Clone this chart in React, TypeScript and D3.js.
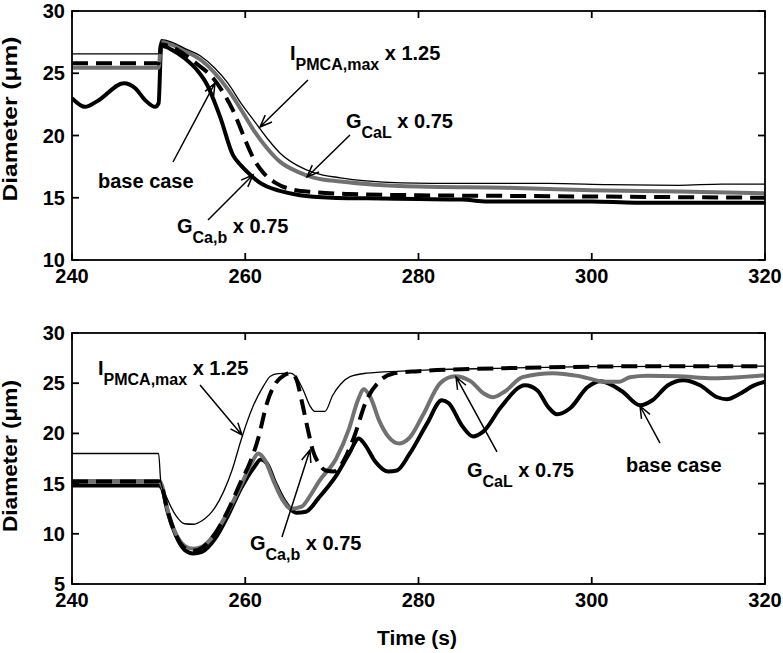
import * as d3 from "d3";

// ---- data (time in s, diameter in um) ----
const topThin: [number, number][] = [
  [240, 26.55], [250.0, 26.55], [250.3, 27.7], [251.5, 27.5], [253, 27.0], [254.8, 26.4],
  [256.5, 25.4], [258, 24.2], [259.5, 22.6], [261, 21.2], [262.5, 19.8], [264, 18.6],
  [266, 17.6], [268, 17.0], [271, 16.6], [274, 16.35], [278, 16.2], [285, 16.15],
  [295, 16.15], [302, 16.05], [310, 16.0], [315, 16.1], [320, 16.1],
];
const topGray: [number, number][] = [
  [240, 25.45], [250.0, 25.45], [250.3, 27.5], [251.5, 27.3], [253, 26.8], [255, 26.0],
  [256.5, 25.0], [258, 23.7], [259.5, 22.1], [261, 20.4], [262.5, 19.0], [264, 17.9],
  [266, 17.1], [268, 16.6], [271, 16.3], [275, 16.05], [280, 15.9], [290, 15.8],
  [300, 15.6], [310, 15.5], [320, 15.35],
];
const topDash: [number, number][] = [
  [240, 25.8], [250.0, 25.8], [250.3, 27.3], [251.5, 27.1], [253, 26.5], [254.5, 25.7],
  [256.3, 24.6], [257.5, 23.4], [258.6, 22.0], [259.5, 20.5], [260.2, 19.3], [261, 18.1],
  [262.1, 17.0], [263.5, 16.2], [265.2, 15.7], [268, 15.45], [272, 15.3], [280, 15.2],
  [290, 15.15], [300, 15.1], [310, 15.05], [320, 15.0],
];
const topBase: [number, number][] = [
  [240, 23.0], [241.5, 22.3], [243, 22.8], [246, 24.2], [247.3, 23.8], [248.5, 22.8],
  [249.6, 22.3], [250.0, 22.6], [250.3, 27.2], [251.5, 26.9], [253, 26.2], [254.5, 25.2],
  [255.5, 24.2], [257.1, 21.5], [258.6, 18.4], [259.5, 17.6], [260.2, 17.1], [261.5, 16.3],
  [262.5, 15.9], [264, 15.55], [266.3, 15.2], [270, 15.0], [274, 14.95], [280, 14.9],
  [285, 14.85], [288, 14.7], [300, 14.7], [305, 14.6], [320, 14.6],
];

const botThin: [number, number][] = [
  [240, 18.0], [250.0, 18.0], [250.25, 15.2], [251, 13.5], [252, 11.8], [253, 11.0],
  [254, 10.95], [255, 11.3], [256.5, 12.6], [257.5, 14.2], [258.5, 16.4], [259.5, 19.3],
  [260.9, 22.7], [262.1, 24.7], [262.9, 25.7], [263.8, 25.95], [265.2, 26.0], [265.8, 25.7],
  [266.7, 24.3], [267.5, 22.7], [268, 22.2], [269.2, 22.2], [270.1, 23.8], [271, 24.9],
  [272.1, 25.65], [274, 26.0], [278, 26.2], [282, 26.35], [290, 26.5], [300, 26.65],
  [320, 26.7],
];
const botGray: [number, number][] = [
  [240, 15.25], [250.0, 15.25], [250.4, 14.8], [251, 12.5], [252, 10.0], [253, 8.8],
  [254, 8.5], [255, 8.7], [256.5, 10.0], [258, 12.2], [259.5, 14.8], [260.7, 17.0],
  [261.5, 18.0], [262.3, 17.3], [263.3, 15.2], [264.3, 13.4], [265.3, 12.5], [266.5, 12.7],
  [267.5, 13.8], [268.5, 15.2], [270.5, 17.5], [272, 20.5], [273, 23.3], [273.7, 24.4],
  [274.5, 23.5], [275.5, 21.2], [276.5, 19.7], [277.8, 19.0], [279, 19.6], [280.5, 21.8],
  [282.5, 25.0], [284.2, 25.7], [286, 25.2], [287.5, 24.0], [288.6, 23.6], [290, 24.2],
  [292, 25.6], [295.5, 26.0], [298.6, 25.7], [301.5, 25.15], [303.2, 25.15], [304.4, 25.6],
  [306.4, 25.75], [310, 25.7], [314, 25.5], [317, 25.6], [320, 25.8],
];
const botDash: [number, number][] = [
  [240, 15.2], [250.0, 15.2], [250.4, 14.6], [251, 12.4], [252, 9.9], [253, 8.6],
  [254, 8.3], [255, 8.6], [256.5, 10.0], [258, 12.3], [259.5, 15.2], [260.5, 17.0],
  [261.5, 19.5], [262.5, 23.0], [263.5, 25.0], [264.5, 25.8], [265.3, 26.0], [265.9, 25.4],
  [266.5, 23.3], [267.2, 20.5], [267.8, 18.3], [268.5, 17.0], [269.3, 16.3], [270.2, 16.2],
  [271, 16.8], [272.5, 19.5], [274, 23.3], [275.5, 25.2], [277, 25.95], [280, 26.2],
  [285, 26.4], [290, 26.5], [300, 26.65], [310, 26.7], [320, 26.7],
];
const botBase: [number, number][] = [
  [240, 14.8], [250.0, 14.8], [250.4, 14.5], [251, 12.3], [252, 9.8], [253, 8.4],
  [254, 8.05], [255, 8.2], [256.5, 9.5], [258, 11.8], [259.5, 14.5], [261, 16.6],
  [261.8, 17.4], [262.5, 17.0], [263.5, 15.0], [264.5, 13.3], [265.9, 12.1], [267, 12.2],
  [268.5, 13.6], [270.5, 15.8], [272, 18.0], [273.1, 19.5], [273.8, 18.9], [275, 17.2],
  [276.5, 16.2], [277.5, 16.3], [279, 18.0], [281, 21.0], [282.7, 23.3], [283.5, 23.0],
  [285, 20.8], [286.3, 19.7], [287.5, 20.2], [289.5, 22.6], [292.3, 24.8], [293.7, 24.3],
  [295, 22.6], [296, 21.9], [297.5, 22.5], [299.5, 24.6], [301, 25.2], [303.5, 24.2],
  [305.6, 22.8], [307, 23.3], [308.8, 24.8], [310.6, 25.3], [312.5, 24.8], [314.5, 23.6],
  [315.6, 23.4], [317, 23.9], [318.8, 24.8], [320, 25.15],
];

const xTicks = [240, 260, 280, 300, 320];
const topYTicks = [10, 15, 20, 25, 30];
const botYTicks = [5, 10, 15, 20, 25, 30];

// annotations: [text x, text y, tail x, tail y, head x, head y] in data units
type Note = { main: string; sub?: string; rest?: string; at: number[]; arrow: number[] };
const topNotes: Note[] = [
  { main: "I", sub: "PMCA,max", rest: " x 1.25", at: [265.17, 26.06], arrow: [267.24, 24.46, 261.7, 20.68] },
  { main: "G", sub: "CaL", rest: " x 0.75", at: [271.63, 20.6], arrow: [272.09, 20.04, 267.13, 16.67] },
  { main: "base case", at: [243.0, 15.78], arrow: [251.66, 17.87, 256.51, 24.22] },
  { main: "G", sub: "Ca,b", rest: " x 0.75", at: [252.12, 12.17], arrow: [255.7, 13.21, 260.89, 16.83] },
];
const botNotes: Note[] = [
  { main: "I", sub: "PMCA,max", rest: " x 1.25", at: [243.0, 25.82], arrow: [254.78, 24.82, 259.62, 19.84] },
  { main: "G", sub: "Ca,b", rest: " x 0.75", at: [260.55, 8.39], arrow: [264.24, 9.68, 267.47, 18.35] },
  { main: "G", sub: "CaL", rest: " x 0.75", at: [285.6, 15.66], arrow: [289.06, 18.15, 284.33, 25.62] },
  { main: "base case", at: [303.95, 16.16], arrow: [307.88, 19.04, 305.57, 22.73] },
];

const FONT = "'Liberation Sans', Arial, Helvetica, sans-serif";
const GRAY = "#717171";
const W = 783;
const H = 653;
const left = 72;
const right = 765;

function Panel(props: {
  top: number; bottom: number; yDomain: [number, number]; yTicks: number[];
  thin: [number, number][]; gray: [number, number][]; dash: [number, number][]; base: [number, number][];
  notes: Note[]; labelY: number; labelLen: number;
}) {
  const x = d3.scaleLinear().domain([240, 320]).range([left, right]);
  const y = d3.scaleLinear().domain(props.yDomain).range([props.bottom, props.top]);
  const line = d3.line<[number, number]>().x((d) => x(d[0])).y((d) => y(d[1])).curve(d3.curveMonotoneX);
  const tl = 7;

  const arrowPath = (a: number[]) => {
    const x1 = x(a[0]), y1 = y(a[1]), x2 = x(a[2]), y2 = y(a[3]);
    const ang = Math.atan2(y2 - y1, x2 - x1);
    const L = 13, sp = 0.38;
    const b1 = [x2 - L * Math.cos(ang - sp), y2 - L * Math.sin(ang - sp)];
    const b2 = [x2 - L * Math.cos(ang + sp), y2 - L * Math.sin(ang + sp)];
    return `M${x1},${y1}L${x2},${y2}M${b1[0]},${b1[1]}L${x2},${y2}L${b2[0]},${b2[1]}`;
  };

  return (
    <g>
      <defs>
        <clipPath id={`clip${props.top}`}>
          <rect x={left} y={props.top} width={right - left} height={props.bottom - props.top} />
        </clipPath>
      </defs>
      <g clipPath={`url(#clip${props.top})`} fill="none" strokeLinejoin="round">
        <path d={line(props.base) || ""} stroke="#000" strokeWidth={4} />
        <path d={line(props.gray) || ""} stroke={GRAY} strokeWidth={4} />
        <path d={line(props.dash) || ""} stroke="#000" strokeWidth={4} strokeDasharray="16 8" />
        <path d={line(props.thin) || ""} stroke="#000" strokeWidth={1.3} />
      </g>
      <rect x={left} y={props.top} width={right - left} height={props.bottom - props.top}
        fill="none" stroke="#000" strokeWidth={1.8} />
      {xTicks.map((t) => (
        <g key={"x" + t}>
          <line x1={x(t)} x2={x(t)} y1={props.bottom} y2={props.bottom - tl} stroke="#000" strokeWidth={1.8} />
          <line x1={x(t)} x2={x(t)} y1={props.top} y2={props.top + tl} stroke="#000" strokeWidth={1.8} />
          <text x={x(t)} y={props.bottom + 23} textAnchor="middle" fontFamily={FONT} fontWeight="bold" fontSize={20}>{t}</text>
        </g>
      ))}
      {props.yTicks.map((t) => (
        <g key={"y" + t}>
          <line x1={left} x2={left + tl} y1={y(t)} y2={y(t)} stroke="#000" strokeWidth={1.8} />
          <line x1={right} x2={right - tl} y1={y(t)} y2={y(t)} stroke="#000" strokeWidth={1.8} />
          <text x={left - 7} y={y(t) + 7} textAnchor="end" fontFamily={FONT} fontWeight="bold" fontSize={20}>{t}</text>
        </g>
      ))}
      <text transform={`translate(17,${props.labelY}) rotate(-90)`} textAnchor="middle" fontFamily={FONT}
        fontWeight="bold" fontSize={20} textLength={props.labelLen} lengthAdjust="spacingAndGlyphs">
        Diameter (μm)
      </text>
      {props.notes.map((n, i) => (
        <g key={"n" + i}>
          <path d={arrowPath(n.arrow)} fill="none" stroke="#000" strokeWidth={1.5} />
          <text x={x(n.at[0])} y={y(n.at[1])} fontFamily={FONT} fontWeight="bold" fontSize={20}>
            {n.main}
            {n.sub && <tspan dy={10} fontSize={16}>{n.sub}</tspan>}
            {n.rest && <tspan dy={-10}>{n.rest}</tspan>}
          </text>
        </g>
      ))}
    </g>
  );
}

export default function App() {
  return (
    <svg width={W} height={H} style={{ position: "absolute", left: 0, top: 0, background: "#fff" }}>
      <rect width={W} height={H} fill="#fff" />
      <Panel top={11} bottom={260} yDomain={[10, 30]} yTicks={topYTicks}
        thin={topThin} gray={topGray} dash={topDash} base={topBase} notes={topNotes} labelY={119} labelLen={165} />
      <Panel top={333} bottom={584} yDomain={[5, 30]} yTicks={botYTicks}
        thin={botThin} gray={botGray} dash={botDash} base={botBase} notes={botNotes} labelY={456} labelLen={152} />
      <text x={417} y={645} textAnchor="middle" fontFamily={FONT} fontWeight="bold" fontSize={20}
        textLength={80} lengthAdjust="spacingAndGlyphs">
        Time (s)
      </text>
    </svg>
  );
}
